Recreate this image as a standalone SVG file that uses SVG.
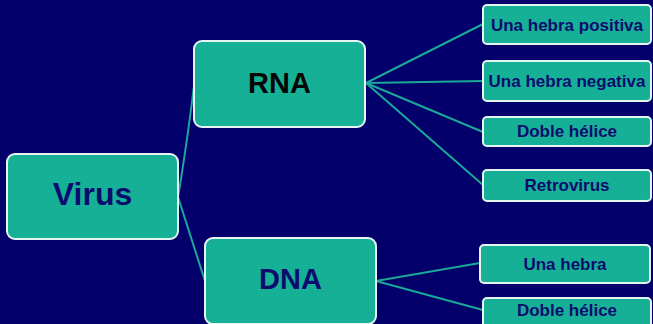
<svg xmlns="http://www.w3.org/2000/svg" width="653" height="324" viewBox="0 0 653 324">
<style>
.box{fill:#16b097;stroke:#e6f5f2;stroke-width:2}
.t{font-family:"Liberation Sans",Arial,sans-serif;font-weight:bold;text-anchor:middle;fill:#0c0c6e}
.s{font-size:17px}
.c{stroke:#1aa899;stroke-width:2;fill:none}
</style>
<rect width="653" height="324" fill="#03006b"/>
<g id="connectors">
<path class="c" d="M178,197 Q186,150 194,86"/>
<line class="c" x1="178" y1="197" x2="205" y2="281"/>
<line class="c" x1="366" y1="83" x2="483" y2="24"/>
<line class="c" x1="366" y1="83" x2="483" y2="81"/>
<line class="c" x1="366" y1="83" x2="483" y2="132"/>
<line class="c" x1="366" y1="83" x2="483" y2="185"/>
<line class="c" x1="376" y1="281" x2="480" y2="263"/>
<line class="c" x1="376" y1="281" x2="483" y2="310"/>
</g>
<g id="virus"><rect class="box" x="7" y="154" width="171" height="85" rx="8"/><text class="t" x="92.5" y="205" font-size="32">Virus</text></g>
<g id="rna"><rect class="box" x="194" y="41" width="171" height="86" rx="8"/><text class="t" x="279.5" y="93" font-size="29" style="fill:#050505">RNA</text></g>
<g id="dna"><rect class="box" x="205" y="238" width="171" height="86" rx="8"/><text class="t" x="290.5" y="289" font-size="29">DNA</text></g>
<g id="positiva"><rect class="box" x="483" y="5" width="168" height="39" rx="4"/><text class="t s" x="567" y="31">Una hebra positiva</text></g>
<g id="negativa"><rect class="box" x="483" y="61" width="168" height="40" rx="4"/><text class="t s" x="567" y="87">Una hebra negativa</text></g>
<g id="doble-rna"><rect class="box" x="483" y="117" width="168" height="29" rx="4"/><text class="t s" x="567" y="137">Doble hélice</text></g>
<g id="retrovirus"><rect class="box" x="483" y="170" width="168" height="31" rx="4"/><text class="t s" x="567" y="191">Retrovirus</text></g>
<g id="una-hebra"><rect class="box" x="480" y="245" width="170" height="38" rx="4"/><text class="t s" x="565" y="270">Una hebra</text></g>
<g id="doble-dna"><rect class="box" x="483" y="298" width="168" height="30" rx="4"/><text class="t s" x="567" y="316">Doble hélice</text></g>
</svg>
